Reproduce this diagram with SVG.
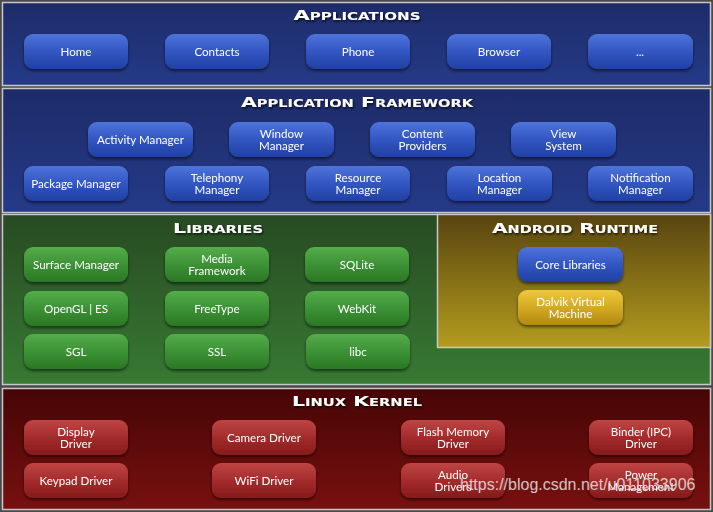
<svg xmlns="http://www.w3.org/2000/svg" width="713" height="512" viewBox="0 0 713 512">
<defs>
<linearGradient id="gApps" x1="0" y1="0" x2="0" y2="1"><stop offset="0" stop-color="#1d2b68"/><stop offset="1" stop-color="#253a88"/></linearGradient>
<linearGradient id="gLib" x1="0" y1="0" x2="0" y2="1"><stop offset="0" stop-color="#274a22"/><stop offset="1" stop-color="#387a33"/></linearGradient>
<linearGradient id="gRt" x1="0" y1="0" x2="0" y2="1"><stop offset="0" stop-color="#57440f"/><stop offset="1" stop-color="#b49c1e"/></linearGradient>
<linearGradient id="gKer" x1="0" y1="0" x2="0" y2="1"><stop offset="0" stop-color="#460505"/><stop offset="1" stop-color="#781010"/></linearGradient>
<linearGradient id="bBlue" x1="0" y1="0" x2="0" y2="1"><stop offset="0" stop-color="#4e74da"/><stop offset="0.5" stop-color="#3256c2"/><stop offset="1" stop-color="#2140a2"/></linearGradient>
<linearGradient id="bGreen" x1="0" y1="0" x2="0" y2="1"><stop offset="0" stop-color="#55ad4a"/><stop offset="0.5" stop-color="#3c9235"/><stop offset="1" stop-color="#2a7824"/></linearGradient>
<linearGradient id="bRed" x1="0" y1="0" x2="0" y2="1"><stop offset="0" stop-color="#c04545"/><stop offset="0.5" stop-color="#a42c2c"/><stop offset="1" stop-color="#861a1a"/></linearGradient>
<linearGradient id="bGold" x1="0" y1="0" x2="0" y2="1"><stop offset="0" stop-color="#eec83a"/><stop offset="0.5" stop-color="#d4aa22"/><stop offset="1" stop-color="#b08a12"/></linearGradient>
<filter id="sh" x="-10%" y="-20%" width="120%" height="150%"><feDropShadow dx="0" dy="2" stdDeviation="1.6" flood-color="#000" flood-opacity="0.55"/></filter>
<filter id="tsh" x="-10%" y="-40%" width="120%" height="200%"><feDropShadow dx="1" dy="1.5" stdDeviation="1.2" flood-color="#000" flood-opacity="0.8"/></filter>
</defs>
<style>
.panel{stroke:#c8c8c8;stroke-width:1.5}
.btn{filter:url(#sh)}
.btn rect{rx:9;ry:9;stroke:none}
.blue rect{fill:url(#bBlue)}
.green rect{fill:url(#bGreen)}
.red rect{fill:url(#bRed)}
.gold rect{fill:url(#bGold)}
text{font-family:"Lato","Liberation Sans",sans-serif;fill:#fff}
.btn text{font-size:11.6px;text-anchor:middle}
.title{font-family:"DejaVu Sans","Liberation Sans",sans-serif;font-weight:bold;font-variant:small-caps;font-size:14px;text-anchor:middle;filter:url(#tsh)}
.wm{font-family:"Liberation Sans",Arial,sans-serif;font-size:16px;fill:#e6e6e6;fill-opacity:0.85}
</style>
<rect x="0" y="0" width="713" height="512" fill="#4a4a4a"/>

<g id="applications">
<rect class="panel" x="2.5" y="2.5" width="708" height="83" fill="url(#gApps)"/>
<text class="title" x="357" y="20" textLength="127" lengthAdjust="spacingAndGlyphs">Applications</text>
<g id="home" class="btn blue"><rect x="24" y="34" width="104" height="35"/><text x="76" y="56">Home</text></g>
<g id="contacts" class="btn blue"><rect x="165" y="34" width="104" height="35"/><text x="217" y="56">Contacts</text></g>
<g id="phone" class="btn blue"><rect x="306" y="34" width="104" height="35"/><text x="358" y="56">Phone</text></g>
<g id="browser" class="btn blue"><rect x="447" y="34" width="104" height="35"/><text x="499" y="56">Browser</text></g>
<g id="more" class="btn blue"><rect x="588" y="34" width="105" height="35"/><text x="640" y="56">...</text></g>
</g>

<g id="framework">
<rect class="panel" x="2.5" y="88.5" width="708" height="124" fill="url(#gApps)"/>
<text class="title" x="357" y="107" textLength="232" lengthAdjust="spacingAndGlyphs">Application Framework</text>
<g id="activity-manager" class="btn blue"><rect x="88" y="122" width="105" height="35"/><text x="140.5" y="144">Activity Manager</text></g>
<g id="window-manager" class="btn blue"><rect x="229" y="122" width="105" height="35"/><text x="281.5" y="138">Window</text><text x="281.5" y="150">Manager</text></g>
<g id="content-providers" class="btn blue"><rect x="370" y="122" width="105" height="35"/><text x="422.5" y="138">Content</text><text x="422.5" y="150">Providers</text></g>
<g id="view-system" class="btn blue"><rect x="511" y="122" width="105" height="35"/><text x="563.5" y="138">View</text><text x="563.5" y="150">System</text></g>
<g id="package-manager" class="btn blue"><rect x="24" y="166" width="104" height="35"/><text x="76" y="188">Package Manager</text></g>
<g id="telephony-manager" class="btn blue"><rect x="165" y="166" width="104" height="35"/><text x="217" y="182">Telephony</text><text x="217" y="194">Manager</text></g>
<g id="resource-manager" class="btn blue"><rect x="306" y="166" width="104" height="35"/><text x="358" y="182">Resource</text><text x="358" y="194">Manager</text></g>
<g id="location-manager" class="btn blue"><rect x="447" y="166" width="105" height="35"/><text x="499.5" y="182">Location</text><text x="499.5" y="194">Manager</text></g>
<g id="notification-manager" class="btn blue"><rect x="588" y="166" width="105" height="35"/><text x="640.5" y="182">Notification</text><text x="640.5" y="194">Manager</text></g>
</g>

<g id="libraries">
<rect class="panel" x="2.5" y="214.5" width="708" height="170" fill="url(#gLib)"/>
<text class="title" x="218" y="233" textLength="90" lengthAdjust="spacingAndGlyphs">Libraries</text>
<g id="surface-manager" class="btn green"><rect x="24" y="247" width="104" height="35"/><text x="76" y="269">Surface Manager</text></g>
<g id="media-framework" class="btn green"><rect x="165" y="247" width="104" height="35"/><text x="217" y="263">Media</text><text x="217" y="275">Framework</text></g>
<g id="sqlite" class="btn green"><rect x="305" y="247" width="104" height="35"/><text x="357" y="269">SQLite</text></g>
<g id="opengl-es" class="btn green"><rect x="24" y="291" width="104" height="35"/><text x="76" y="313">OpenGL | ES</text></g>
<g id="freetype" class="btn green"><rect x="165" y="291" width="104" height="35"/><text x="217" y="313">FreeType</text></g>
<g id="webkit" class="btn green"><rect x="305" y="291" width="104" height="35"/><text x="357" y="313">WebKit</text></g>
<g id="sgl" class="btn green"><rect x="24" y="334" width="104" height="35"/><text x="76" y="356">SGL</text></g>
<g id="ssl" class="btn green"><rect x="165" y="334" width="104" height="35"/><text x="217" y="356">SSL</text></g>
<g id="libc" class="btn green"><rect x="306" y="334" width="104" height="35"/><text x="358" y="356">libc</text></g>
</g>

<g id="android-runtime">
<rect class="panel" x="437.5" y="214.5" width="273" height="133" fill="url(#gRt)"/>
<text class="title" x="575" y="233" textLength="166" lengthAdjust="spacingAndGlyphs">Android Runtime</text>
<g id="core-libraries" class="btn blue"><rect x="518" y="247" width="105" height="35"/><text x="570.5" y="269">Core Libraries</text></g>
<g id="dalvik-vm" class="btn gold"><rect x="518" y="290" width="105" height="35"/><text x="570.5" y="306">Dalvik Virtual</text><text x="570.5" y="318">Machine</text></g>
</g>

<g id="linux-kernel">
<rect class="panel" x="2.5" y="388.5" width="708" height="121" fill="url(#gKer)"/>
<text class="title" x="357" y="406" textLength="130" lengthAdjust="spacingAndGlyphs">Linux Kernel</text>
<g id="display-driver" class="btn red"><rect x="24" y="420" width="104" height="35"/><text x="76" y="436">Display</text><text x="76" y="448">Driver</text></g>
<g id="camera-driver" class="btn red"><rect x="212" y="420" width="104" height="35"/><text x="264" y="442">Camera Driver</text></g>
<g id="flash-memory-driver" class="btn red"><rect x="401" y="420" width="104" height="35"/><text x="453" y="436">Flash Memory</text><text x="453" y="448">Driver</text></g>
<g id="binder-driver" class="btn red"><rect x="589" y="420" width="104" height="35"/><text x="641" y="436">Binder (IPC)</text><text x="641" y="448">Driver</text></g>
<g id="keypad-driver" class="btn red"><rect x="24" y="463" width="104" height="35"/><text x="76" y="485">Keypad Driver</text></g>
<g id="wifi-driver" class="btn red"><rect x="212" y="463" width="104" height="35"/><text x="264" y="485">WiFi Driver</text></g>
<g id="audio-drivers" class="btn red"><rect x="401" y="463" width="104" height="35"/><text x="453" y="479">Audio</text><text x="453" y="491">Drivers</text></g>
<g id="power-management" class="btn red"><rect x="589" y="463" width="104" height="35"/><text x="641" y="479">Power</text><text x="641" y="491">Management</text></g>
</g>

<g id="connectors"/>
<text class="wm" x="460" y="490">https://blog.csdn.net/u011033906</text>
</svg>
